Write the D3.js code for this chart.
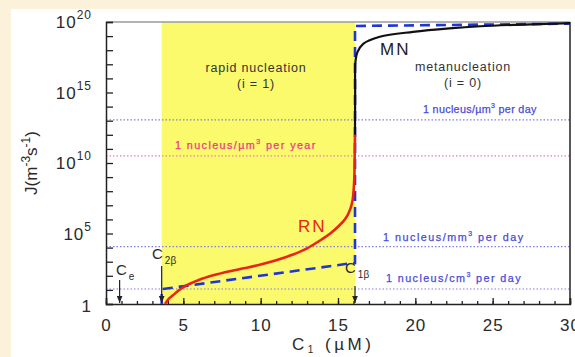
<!DOCTYPE html>
<html>
<head>
<meta charset="utf-8">
<script src="https://cdn.jsdelivr.net/npm/d3@7"></script>
<style>
  html, body { margin: 0; padding: 0; background: #fcf2dc; }
  svg { display: block; font-family: "Liberation Sans", Arial, sans-serif; }
</style>
</head>
<body>
<div id="chart"></div>
<script>
// concentration ticks (µM) and log10 J decades
const xMajor = [0, 5, 10, 15, 20, 25, 30];
const xMinor = d3.range(0, 31, 1);
const yDecades = d3.range(0, 21, 1);
const yLabels = [0, 5, 10, 15, 20];

// characteristic concentrations
const Ce = 0.88;
const C2b = 3.6;
const C1b = 16.1;

// rapid nucleation curve: [C1, log10 J]
const rnCurve = [
  [3.82, 0], [3.95, 0.22], [4.1, 0.42], [4.35, 0.64], [4.65, 0.92], [5.0, 1.2],
  [6.0, 1.7], [7.0, 2.05], [8.0, 2.32], [9.0, 2.55], [10.0, 2.8], [11.0, 3.1],
  [12.0, 3.47], [13.0, 3.95], [14.0, 4.62], [14.5, 5.0], [15.0, 5.48],
  [15.5, 6.08], [15.8, 6.75], [15.95, 7.4], [16.05, 8.8], [16.08, 10.5], [16.1, 12.0]
];

// metanucleation curve: [C1, log10 J]
const mnCurve = [
  [16.1, 12.0], [16.11, 15.0], [16.13, 17.2], [16.25, 17.85], [16.63, 18.45],
  [17.7, 18.95], [19.85, 19.3], [22.2, 19.55], [24.2, 19.7], [26.5, 19.8],
  [28.5, 19.86], [30, 19.92]
];

// dashed boundary line: [C1, log10 J]
const dashedLine = [
  [C2b, 0], [C2b, 1.05], [15.8, 2.88], [C1b, 2.9], [C1b, 19.72], [30, 19.88]
];

// reference rates (log10 J)
const refLevels = [
  { key: "umDay", logJ: Math.log10(1e18 / 86400), color: "#7f7fe6" },
  { key: "umYear", logJ: Math.log10(1e18 / 3.156e7), color: "#f07cc0" },
  { key: "mmDay", logJ: Math.log10(1e9 / 86400), color: "#7f7fe6" },
  { key: "cmDay", logJ: Math.log10(1e6 / 86400), color: "#7f7fe6" }
];

const W = 575, H = 357;
const margin = { top: 22, right: 5, bottom: 53, left: 106 };

const svg = d3.select("#chart").append("svg")
  .attr("width", W)
  .attr("height", H);

// white panel over cream page
svg.append("rect")
  .attr("x", 11).attr("y", 9)
  .attr("width", W - 11).attr("height", H - 9)
  .attr("fill", "#fff");

const x = d3.scaleLinear().domain([0, 30]).range([margin.left, W - margin.right]);
const y = d3.scaleLinear().domain([0, 20]).range([H - margin.bottom, margin.top]);

// rapid nucleation zone
svg.append("rect")
  .attr("x", x(C2b))
  .attr("y", y(20))
  .attr("width", x(C1b) - x(C2b))
  .attr("height", y(0) - y(20))
  .attr("fill", "#fafa6c");

// reference dotted lines
svg.append("g")
  .selectAll("line")
  .data(refLevels)
  .join("line")
  .attr("x1", x(0))
  .attr("x2", x(30))
  .attr("y1", d => y(d.logJ))
  .attr("y2", d => y(d.logJ))
  .attr("stroke", d => d.color)
  .attr("stroke-width", 1.2)
  .attr("stroke-dasharray", "1.5,2");

// frame: top (grey) and right
svg.append("line")
  .attr("x1", x(0)).attr("x2", x(30))
  .attr("y1", y(20)).attr("y2", y(20))
  .attr("stroke", "#9a9a9a").attr("stroke-width", 1.5);
svg.append("line")
  .attr("x1", x(30)).attr("x2", x(30))
  .attr("y1", y(20)).attr("y2", y(0))
  .attr("stroke", "#222").attr("stroke-width", 1.5);

// x axis, ticks pointing inward
const xAxis = svg.append("g")
  .attr("transform", `translate(0,${y(0)})`)
  .call(d3.axisBottom(x).tickValues(xMinor).tickSize(-3).tickFormat(""))
  .call(g => g.select(".domain").remove());
xAxis.selectAll("line").attr("stroke", "#222").attr("stroke-width", 1.3);

const xAxisMaj = svg.append("g")
  .attr("transform", `translate(0,${y(0)})`)
  .call(d3.axisBottom(x).tickValues(xMajor).tickSize(-6).tickPadding(15).tickFormat(d3.format("d")));
xAxisMaj.select(".domain").attr("stroke", "#222").attr("stroke-width", 1.5);
xAxisMaj.selectAll("line").attr("stroke", "#222").attr("stroke-width", 1.3);
xAxisMaj.selectAll("text")
  .attr("font-size", 17)
  .attr("fill", "#2a2a2a")
  .attr("font-family", "Liberation Sans, Arial, sans-serif")
  .attr("letter-spacing", 1);

// y axis (log decades), ticks pointing inward
const yAxis = svg.append("g")
  .attr("transform", `translate(${x(0)},0)`)
  .call(d3.axisLeft(y).tickValues(yDecades).tickSize(-7).tickFormat(""));
yAxis.select(".domain").attr("stroke", "#222").attr("stroke-width", 1.5);
yAxis.selectAll("line").attr("stroke", "#222").attr("stroke-width", 1.3);

const yLab = svg.append("g").attr("fill", "#2a2a2a");
yLabels.forEach(e => {
  const t = yLab.append("text")
    .attr("x", 92)
    .attr("y", y(e) + (e === 0 ? 8 : 6))
    .attr("text-anchor", "end")
    .attr("font-size", 17)
    .attr("letter-spacing", 1);
  if (e === 0) {
    t.text("1");
  } else {
    t.append("tspan").text("10");
    t.append("tspan").attr("dy", -9).attr("font-size", 12).text(e);
  }
});

// axis titles
const xt = svg.append("text")
  .attr("x", 292)
  .attr("y", 350)
  .attr("font-size", 17)
  .attr("fill", "#2a2a2a")
  .attr("letter-spacing", 3.5);
xt.append("tspan").text("C");
xt.append("tspan").attr("dy", 3).attr("font-size", 10).text("1");
xt.append("tspan").attr("dy", -3).text(" (\u00b5M)");

const yt = svg.append("text")
  .attr("transform", `translate(37,163) rotate(-90)`)
  .attr("text-anchor", "middle")
  .attr("font-size", 17)
  .attr("fill", "#2a2a2a");
yt.append("tspan").text("J(m");
yt.append("tspan").attr("dy", -7).attr("font-size", 12).text("-3");
yt.append("tspan").attr("dy", 7).text("s");
yt.append("tspan").attr("dy", -7).attr("font-size", 12).text("-1");
yt.append("tspan").attr("dy", 7).text(")");

// curves
const line = d3.line()
  .x(d => x(d[0]))
  .y(d => y(d[1]))
  .curve(d3.curveCatmullRom.alpha(0.5));

svg.append("path")
  .datum(dashedLine)
  .attr("d", d3.line().x(d => x(d[0])).y(d => y(d[1])))
  .attr("fill", "none")
  .attr("stroke", "#1f35d6")
  .attr("stroke-width", 2.6)
  .attr("stroke-dasharray", "10,6");

svg.append("path")
  .datum(mnCurve)
  .attr("d", line)
  .attr("fill", "none")
  .attr("stroke", "#111")
  .attr("stroke-width", 2.2);

svg.append("path")
  .datum(rnCurve)
  .attr("d", line)
  .attr("fill", "none")
  .attr("stroke", "#ea2418")
  .attr("stroke-width", 2.6);

// region labels
const regionText = [
  { t: "rapid nucleation", cx: 256, y: 72 },
  { t: "(i = 1)", cx: 256, y: 88 },
  { t: "metanucleation", cx: 463, y: 71 },
  { t: "(i = 0)", cx: 463, y: 87 }
];
svg.append("g").selectAll("text")
  .data(regionText)
  .join("text")
  .attr("x", d => d.cx)
  .attr("y", d => d.y)
  .attr("text-anchor", "middle")
  .attr("font-size", 12.5)
  .attr("letter-spacing", 0.8)
  .attr("fill", "#333")
  .text(d => d.t);

svg.append("text")
  .attr("x", 380).attr("y", 55)
  .attr("font-size", 17).attr("letter-spacing", 2)
  .attr("fill", "#222")
  .text("MN");

svg.append("text")
  .attr("x", 298).attr("y", 232)
  .attr("font-size", 17).attr("letter-spacing", 2)
  .attr("fill", "#ea2418")
  .text("RN");

// reference level label layout
const refLabels = [
  { unit: "\u00b5m", per: " per day", x: 423, y: 113, ls: 0.3, color: "#4a4ad8" },
  { unit: "\u00b5m", per: " per year", x: 175, y: 149, ls: 1.4, color: "#f0388c" },
  { unit: "mm", per: " per day", x: 383, y: 241, ls: 1.5, color: "#4a4ad8" },
  { unit: "cm", per: " per day", x: 386, y: 282, ls: 1.4, color: "#4a4ad8" }
];
refLabels.forEach(d => {
  const t = svg.append("text")
    .attr("x", d.x).attr("y", d.y)
    .attr("font-size", 10.8)
    .attr("letter-spacing", d.ls)
    .attr("stroke", d.color)
    .attr("stroke-width", 0.25)
    .attr("fill", d.color);
  t.append("tspan").text("1 nucleus/" + d.unit);
  t.append("tspan").attr("dy", -5).attr("font-size", 7).text("3");
  t.append("tspan").attr("dy", 5).text(d.per);
});

// concentration markers with arrows
svg.append("defs").append("marker")
  .attr("id", "arr")
  .attr("viewBox", "0 0 10 10")
  .attr("refX", 10).attr("refY", 5)
  .attr("markerWidth", 6).attr("markerHeight", 6)
  .attr("orient", "auto")
  .append("path")
  .attr("d", "M0,1 L10,5 L0,9 Z")
  .attr("fill", "#222");

const markers = [
  { c: Ce, sub: "e", y1: 280, tx: 116, ty: 275 },
  { c: C2b, sub: "2\u03b2", y1: 266, tx: 152, ty: 259 },
  { c: C1b, sub: "1\u03b2", y1: 286, tx: 345, ty: 273 }
];
markers.forEach(m => {
  svg.append("line")
    .attr("x1", x(m.c)).attr("x2", x(m.c))
    .attr("y1", m.y1).attr("y2", y(0) - 1)
    .attr("stroke", "#222").attr("stroke-width", 1.2)
    .attr("marker-end", "url(#arr)");
  const t = svg.append("text")
    .attr("x", m.tx).attr("y", m.ty)
    .attr("font-size", 15)
    .attr("fill", "#2a2a2a");
  t.append("tspan").text("C");
  t.append("tspan").attr("dy", 5).attr("dx", 2).attr("font-size", 10).text(m.sub);
});
</script>
</body>
</html>
